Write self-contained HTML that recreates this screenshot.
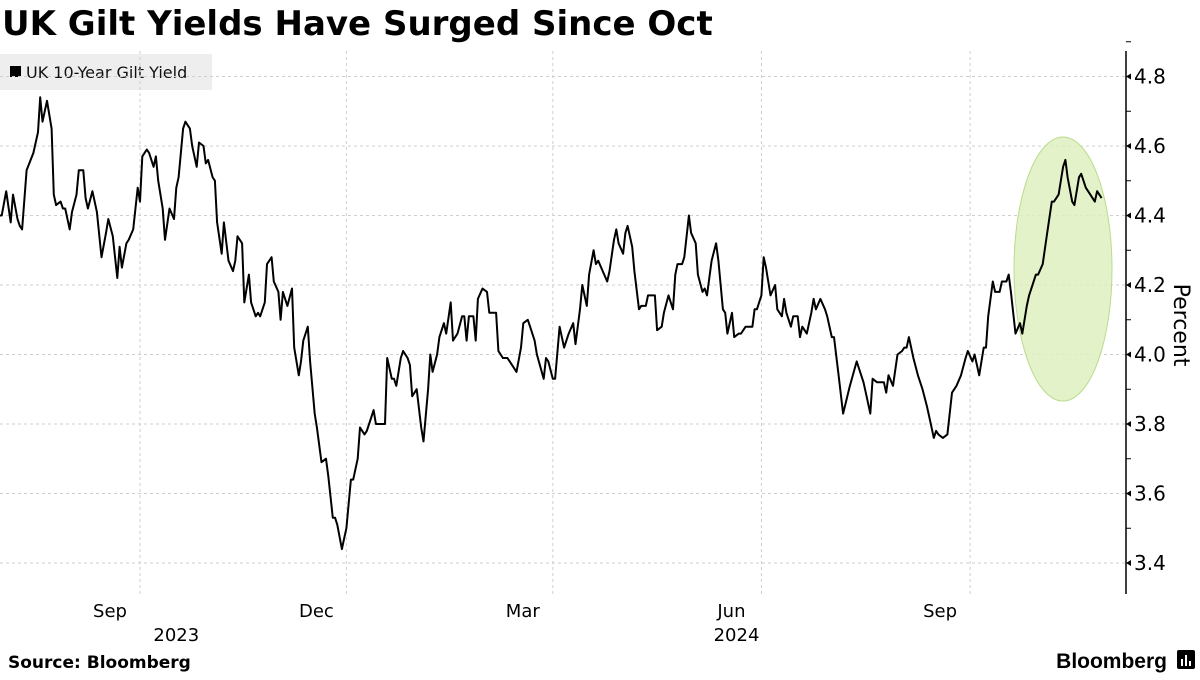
<!DOCTYPE html>
<html><head><meta charset="utf-8"><style>
body{margin:0;background:#fff;width:1200px;height:675px;overflow:hidden;font-family:"Liberation Sans","DejaVu Sans",sans-serif;}
svg text{font-family:"DejaVu Sans","Liberation Sans",sans-serif;}
</style></head><body>
<svg id="chart" width="1200" height="675" xmlns="http://www.w3.org/2000/svg">
<text x="2" y="35" font-size="34" font-weight="bold" fill="#000" style="font-family:'DejaVu Sans',sans-serif">UK Gilt Yields Have Surged Since Oct</text>
<g>
<rect x="0" y="54" width="212" height="36" fill="#eeeeee"/>
<rect x="10" y="66" width="11" height="11" fill="#000"/>
<text x="26" y="78" font-size="16" fill="#111">UK 10-Year Gilt Yield</text>
</g>
<g id="grid"></g>
<ellipse cx="1063" cy="269" rx="49" ry="132" fill="#dff0c0" fill-opacity="0.85" stroke="#b9dc8c" stroke-width="1"/>
<g id="series"></g>
<g id="axis"></g>
<text transform="translate(1174,325) rotate(90)" text-anchor="middle" font-size="22" fill="#000">Percent</text>
<text x="8" y="668" font-size="17" font-weight="bold" fill="#000">Source:  Bloomberg</text>
<text x="1167" y="668" text-anchor="end" font-size="21" font-weight="bold" fill="#000" style="font-family:'Liberation Sans',sans-serif">Bloomberg</text>
<g><rect x="1177" y="650" width="18" height="19" rx="2" fill="#000"/><rect x="1181" y="659" width="2" height="7" fill="#fff"/><rect x="1185" y="655" width="2" height="11" fill="#fff"/><rect x="1189" y="661" width="2" height="5" fill="#fff"/></g>
</svg>
<script>
const days=[0,1,3,5,6,8,9,10,12,15,17,18,19,21,23,24,25,27,28,29,31,32,34,35,37,38,39,41,43,45,47,48,50,52,53,54,56,57,59,61,62,63,65,66,68,69,70,72,73,75,77,78,79,81,82,84,85,87,88,90,91,92,94,95,96,98,99,101,103,104,105,107,108,110,111,113,114,115,117,118,120,121,123,124,125,127,129,130,132,133,134,136,137,139,140,142,144,145,147,148,149,151,152,153,155,156,158,159,161,162,164,165,166,168,170,171,173,174,175,177,178,180,181,182,184,186,187,189,190,191,193,194,196,197,199,200,202,204,205,206,207,209,210,211,213,215,216,218,219,220,222,224,225,226,228,230,231,233,234,236,237,240,241,242,244,245,247,249,251,253,254,256,257,259,260,262,263,264,266,268,269,271,272,273,275,276,277,279,280,282,283,285,286,288,289,290,292,293,295,297,298,299,301,302,304,305,307,308,310,311,312,314,316,317,319,320,321,323,324,326,327,329,330,332,333,334,336,337,338,340,342,343,345,346,347,349,350,352,353,354,356,358,359,360,362,364,365,367,368,370,372,375,378,381,382,384,385,387,390,391,392,394,396,398,399,400,401,403,405,407,409,410,412,413,414,416,418,419,420,422,424,426,427,429,430,432,434,435,436,438,439,441,442,444,445,446,448,450,451,453,454,457,458,460,462,464,465,467,469,470,471,473,474,476,477,479,481,483,484,486];
const yields=[4.40,4.40,4.47,4.38,4.46,4.39,4.37,4.36,4.53,4.58,4.64,4.74,4.67,4.73,4.65,4.46,4.43,4.44,4.42,4.42,4.36,4.41,4.46,4.53,4.53,4.45,4.42,4.47,4.41,4.28,4.35,4.39,4.34,4.22,4.31,4.25,4.32,4.33,4.36,4.48,4.44,4.57,4.59,4.58,4.54,4.57,4.50,4.42,4.33,4.42,4.39,4.48,4.51,4.65,4.67,4.65,4.60,4.54,4.61,4.60,4.55,4.56,4.51,4.50,4.38,4.29,4.38,4.27,4.24,4.27,4.34,4.32,4.15,4.23,4.15,4.11,4.12,4.11,4.15,4.26,4.28,4.21,4.18,4.10,4.18,4.14,4.19,4.02,3.94,3.98,4.04,4.08,3.98,3.83,3.79,3.69,3.70,3.65,3.53,3.53,3.51,3.44,3.47,3.50,3.64,3.64,3.70,3.79,3.77,3.78,3.82,3.84,3.80,3.80,3.80,3.99,3.93,3.93,3.91,3.99,4.01,3.99,3.97,3.88,3.90,3.79,3.75,3.90,4.00,3.95,4.00,4.05,4.09,4.06,4.15,4.04,4.06,4.11,4.11,4.04,4.11,4.11,4.04,4.16,4.19,4.18,4.12,4.12,4.12,4.01,3.99,3.99,3.98,3.97,3.95,4.02,4.09,4.10,4.08,4.04,4.00,3.93,3.99,3.98,3.93,3.93,4.08,4.02,4.06,4.09,4.03,4.13,4.20,4.14,4.23,4.30,4.26,4.27,4.24,4.21,4.24,4.33,4.36,4.32,4.29,4.35,4.37,4.31,4.24,4.13,4.14,4.14,4.17,4.17,4.17,4.07,4.08,4.12,4.17,4.13,4.23,4.26,4.26,4.28,4.40,4.35,4.32,4.23,4.18,4.19,4.17,4.27,4.32,4.27,4.13,4.12,4.06,4.12,4.05,4.06,4.06,4.08,4.08,4.08,4.13,4.13,4.17,4.28,4.25,4.17,4.20,4.13,4.11,4.16,4.12,4.08,4.11,4.11,4.05,4.08,4.06,4.12,4.16,4.13,4.16,4.13,4.11,4.05,4.05,3.94,3.83,3.91,3.98,3.92,3.89,3.83,3.93,3.92,3.92,3.89,3.94,3.91,4.00,4.01,4.02,4.02,4.05,3.99,3.94,3.90,3.85,3.82,3.76,3.78,3.77,3.76,3.77,3.83,3.89,3.91,3.94,3.99,4.01,3.98,4.00,3.94,4.02,4.02,4.11,4.21,4.18,4.18,4.21,4.21,4.23,4.18,4.06,4.09,4.06,4.14,4.17,4.23,4.23,4.26,4.35,4.44,4.44,4.46,4.54,4.56,4.51,4.44,4.43,4.51,4.52,4.48,4.46,4.44,4.47,4.45];
const yTicks=[3.4,3.6,3.8,4.0,4.2,4.4,4.6,4.8];
const monthLabels=["Sep","Dec","Mar","Jun","Sep"];
const monthDays=[62,153,244,336,428];
const yearLabels=["2023","2024"];
const yearDays=[78,325];

const NS="http://www.w3.org/2000/svg";
const AX=1126, TOP=51, BOT=594;
function xs(d){return -0.6+d*2.268;}
function ys(v){return 146+(4.6-v)*347.5;}
function mk(tag,attrs,parent){const e=document.createElementNS(NS,tag);for(const k in attrs)e.setAttribute(k,attrs[k]);parent.appendChild(e);return e;}
const grid=document.getElementById('grid'),axis=document.getElementById('axis'),series=document.getElementById('series');
yTicks.forEach(t=>{
  const y=ys(t);
  const g=mk('line',{x1:0,x2:AX,y1:y,y2:y,stroke:'#cfcfcf','stroke-dasharray':'3,3','stroke-width':1},grid);
  
  
  const tk=mk('path',{d:`M${AX} ${y} l5 -3 v6 z`,fill:'#000'},axis);
  
  
  const m=mk('line',{x1:AX,x2:AX+5,y1:y-34.75,y2:y-34.75,stroke:'#000'},axis);
  
  
  const lb=mk('text',{x:AX+8,y:y+7,'font-size':20,fill:'#000'},axis);
  lb.textContent=t.toFixed(1);
  
  
});
monthDays.forEach((d,i)=>{
  const x=xs(d);
  const g=mk('line',{x1:x,x2:x,y1:TOP,y2:BOT,stroke:'#cfcfcf','stroke-dasharray':'3,3','stroke-width':1},grid);
  
  
  const lb=mk('text',{x:x-30,y:617,'font-size':18,fill:'#000','text-anchor':'middle'},axis);
  lb.textContent=monthLabels[i];
  
  
});
yearDays.forEach((d,i)=>{
  const lb=mk('text',{x:xs(d),y:641,'font-size':18,fill:'#000','text-anchor':'middle'},axis);
  lb.textContent=yearLabels[i];
  
  
});
const al=mk('line',{x1:AX,x2:AX,y1:TOP,y2:BOT,stroke:'#000','stroke-width':1.5},axis);


const pts=days.map((d,i)=>xs(d).toFixed(1)+','+ys(yields[i]).toFixed(1)).join(' ');
const pl=mk('polyline',{points:pts,fill:'none',stroke:'#000','stroke-width':2,'stroke-linejoin':'round'},series);


</script>
</body></html>
